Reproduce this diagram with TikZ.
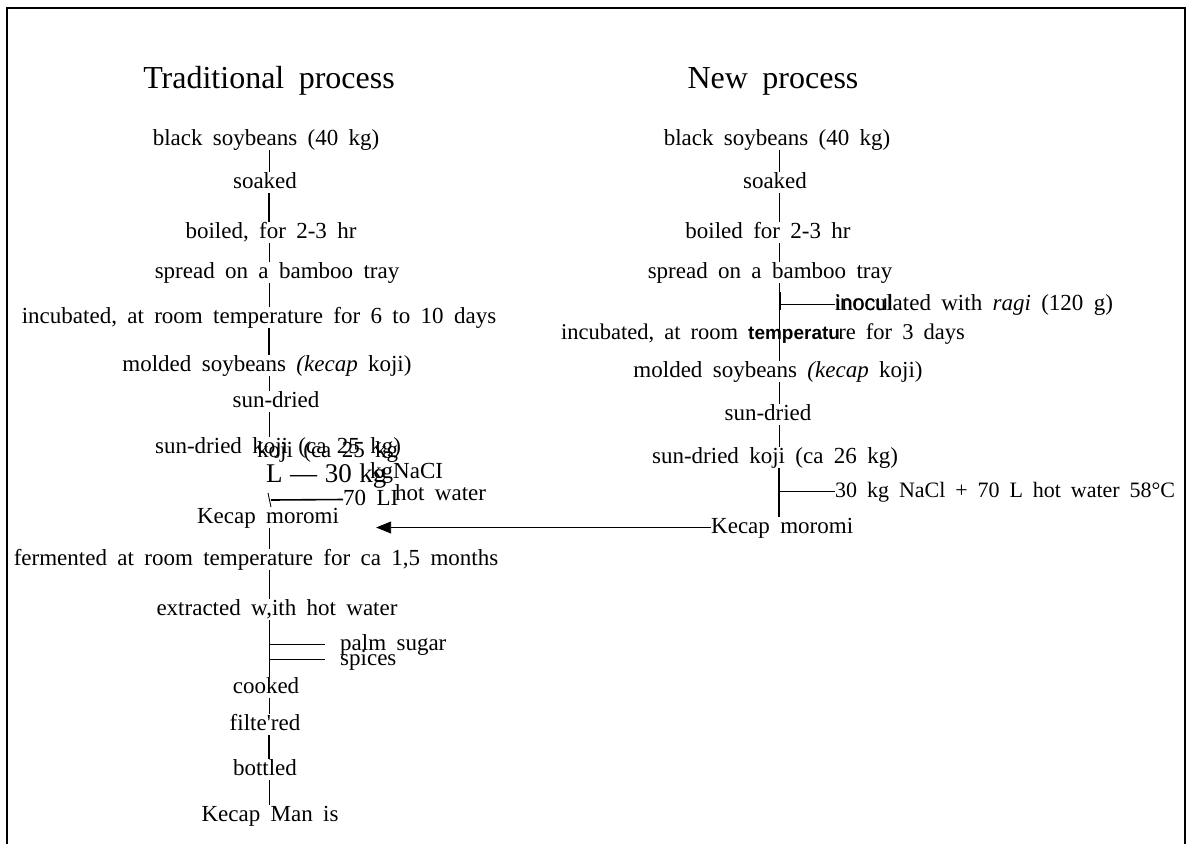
\documentclass[tikz,border=0pt]{standalone}
\usepackage{fontspec}
\setmainfont{Liberation Serif}[WordSpace=1.8]
\newfontfamily\sansf{Liberation Sans}
\usetikzlibrary{arrows.meta}
\begin{document}
\begin{tikzpicture}[x=1pt,y=-1pt,
  txt/.style={inner sep=0pt, text height=16pt, text depth=5pt, anchor=base, font=\fontsize{23}{26}\selectfont},
  txtw/.style={txt, anchor=base west},
  ttl/.style={inner sep=0pt, anchor=base, font=\fontsize{32}{36}\selectfont},
  conn/.style={line width=0.9pt},
  heavy/.style={line width=1.6pt}]
\useasboundingbox (0,0) rectangle (1193,844);
\draw[line width=2.5pt] (7,844) -- (7,8) -- (1185,8) -- (1185,844);
\coordinate (L) at (269,0);
\coordinate (R) at (779,0);
% titles
\node[ttl] (tT) at (269,88) {Traditional process};
\node[ttl] (tN) at (773,88) {New process};
% traditional column
\node[txt] (a1) at (266,145) {black soybeans (40 kg)};
\node[txt] (a2) at (265,188) {soaked};
\node[txt] (a3) at (271,238) {boiled, for 2-3 hr};
\node[txt] (a4) at (277,278) {spread on a bamboo tray};
\node[txt] (a5) at (259,323) {incubated, at room temperature for 6 to 10 days};
\node[txt] (a6) at (267,371) {molded soybeans \textit{(kecap} koji)};
\node[txt] (a7) at (276,407) {sun-dried};
\node[txt] (a8) at (278,453) {sun-dried koji (ca 25 kg)};
\node[txtw] (a8b) at (257,457) {koji (ca 25 kg};
\node[txtw, font=\fontsize{27}{30}\selectfont] (aL) at (266,482) {\spaceskip=0.28em\relax L — 30 kg};
\node[txtw] (aNa) at (370,478) {kgNaCI};
\node[txtw] (a70) at (343,505) {70 LI};
\node[txtw] (ahw) at (395,500) {hot water};
\node[txt] (a9) at (268,523) {Kecap moromi};
\node[txt] (a10) at (256,565) {fermented at room temperature for ca 1,5 months};
\node[txt] (a11) at (277,615) {extracted w,ith hot water};
\node[txtw] (ap) at (340,650) {palm sugar};
\node[txtw] (as) at (340,665) {spices};
\node[txt] (a12) at (266,693) {cooked};
\node[txt] (a13) at (265,730) {filte\textquotesingle red};
\node[txt] (a14) at (265,775) {bottled};
\node[txt] (a15) at (270,821) {Kecap Man is};
% new column
\node[txt] (b1) at (777,145) {black soybeans (40 kg)};
\node[txt] (b2) at (775,188) {soaked};
\node[txt] (b3) at (768,238) {boiled for 2-3 hr};
\node[txt] (b4) at (770,278) {spread on a bamboo tray};
\node[txtw] (bi) at (835,310) {inoculated with \textit{ragi} (120 g)};
\node[txtw, font=\sansf\fontsize{22}{26}\selectfont] (bi2) at (835,310) {inocul};
\node[txt, font=\fontsize{22.5}{26}\selectfont] (b5) at (763,339) {incubated, at room temperature for 3 days};
\node[txtw, fill=white, font=\sansf\bfseries\fontsize{19}{22}\selectfont] (b5b) at (748,339) {temperatu};
\node[txt] (b6) at (778,377) {molded soybeans \textit{(kecap} koji)};
\node[txt] (b7) at (768,420) {sun-dried};
\node[txt] (b8) at (775,463) {sun-dried koji (ca 26 kg)};
\node[txtw, font=\fontsize{22}{25}\selectfont] (bNa) at (835,497) {30 kg NaCl + 70 L hot water 58°C};
\node[txtw] (b9) at (711,533) {Kecap moromi};
% traditional connectors
\draw[conn] (a1.south -| L) -- (a2.north -| L);
\draw[heavy] (a2.south -| L) -- (a3.north -| L);
\draw[conn] (a3.south -| L) -- (a4.north -| L);
\draw[conn] (a4.south -| L) -- (a5.north -| L);
\draw[heavy] (a5.south -| L) -- (a6.north -| L);
\draw[conn] (a6.south -| L) -- (a7.north -| L);
\draw[conn] (a7.south -| L) -- (a8.north -| L);
\coordinate (tk1) at (268,493);
\coordinate (tk2) at (271,507);
\draw[conn] (tk1) -- (tk2);
\coordinate (hk) at (271,500);
\draw[heavy] (hk) -- (a70.west);
\draw[conn] (a9.south -| L) -- (a10.north -| L);
\draw[conn] (a10.south -| L) -- (a11.north -| L);
\draw[conn] (a11.south -| L) -- (a12.north -| L);
\draw[conn, shorten >=15pt] (ap.west -| L) -- (ap.west);
\draw[conn, shorten >=15pt] (as.west -| L) -- (as.west);
\draw[conn] (a12.south -| L) -- (a13.north -| L);
\draw[heavy] (a13.south -| L) -- (a14.north -| L);
\draw[conn] (a14.south -| L) -- (a15.north -| L);
% new connectors
\draw[conn] (b1.south -| R) -- (b2.north -| R);
\draw[conn] (b2.south -| R) -- (b3.north -| R);
\draw[conn] (b3.south -| R) -- (b4.north -| R);
\draw[conn] (b4.south -| R) -- (b6.north -| R);
\coordinate (m1) at (780,292);
\coordinate (m2) at (780,310);
\draw[line width=2.4pt] (m1) -- (m2);
\draw[heavy] (bi.west -| R) -- (bi.west);
\draw[conn] (b6.south -| R) -- (b7.north -| R);
\draw[conn] (b7.south -| R) -- (b8.north -| R);
\draw[heavy] (b8.south -| R) -- (b9.north -| R);
\draw[heavy] (bNa.west -| R) -- (bNa.west);
\draw[conn, -{Triangle[length=15pt,width=12pt]}, shorten >=37pt] (b9.west) -- (b9.west -| a9.east);
\end{tikzpicture}
\end{document}
